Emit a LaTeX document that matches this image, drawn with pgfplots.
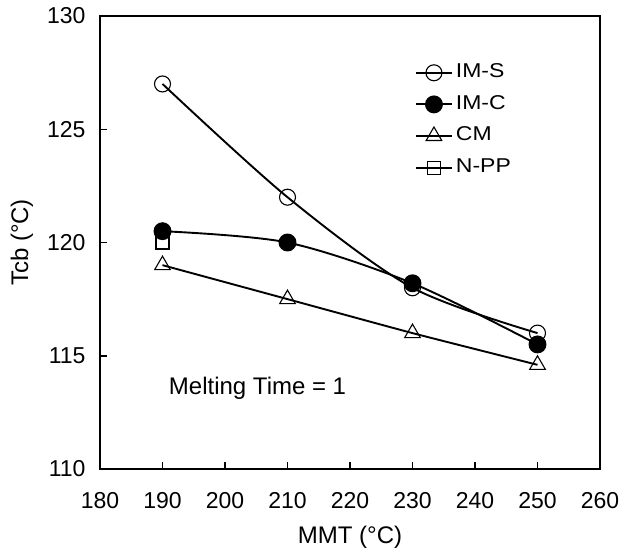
\documentclass[border=0pt]{standalone}
\usepackage{pgfplots}
\pgfplotsset{compat=1.18}
\usepackage{fontspec}
\setmainfont{Liberation Sans}
\newfontfamily\legfont[FakeStretch=1.15]{Liberation Sans}
\begin{document}
\begin{tikzpicture}
\useasboundingbox (-100pt,-81pt) rectangle (521pt,469pt);
\begin{axis}[
  name=ax,
  at={(0,0)}, anchor=south west,
  scale only axis,
  width=500pt, height=453pt,
  xmin=180, xmax=260, ymin=110, ymax=130,
  xtick={180,190,...,260}, ytick={110,115,...,130},
  tick align=inside, xtick pos=bottom, ytick pos=left,
  major tick length=7pt,
  axis line style={line width=1.8pt},
  every tick/.style={black, line width=1.5pt},
  tick label style={font=\fontsize{23}{26}\selectfont},
  /pgf/number format/assume math mode=true,
  xticklabel style={yshift=-20pt},
  yticklabel style={xshift=-11pt},
  clip=false,
  legend style={draw=none, fill=none, at={(0.63,0.9095)}, anchor=north west,
    inner sep=0pt, outer sep=0pt,
    nodes={inner xsep=3pt, inner ysep=6.8pt, text height=14pt, text depth=4pt},
    font=\legfont\fontsize{20}{24}\selectfont, row sep=0pt, cells={anchor=west}},
  legend image code/.code={%
    \draw[mark repeat=2,mark phase=2,line width=1.9pt] plot coordinates {(0pt,0pt) (18pt,0pt) (36pt,0pt)};},
]
\addplot[black, line width=1.9pt, smooth, tension=0.5, mark=o, mark size=8pt, mark options={fill=white, line width=1.1pt}]
  coordinates {(190,127) (210,122) (230,118) (250,116)};
\addlegendentry{IM-S}
\addplot[black, line width=1.9pt, smooth, tension=0.5, mark=*, mark size=8pt, mark options={fill=black}]
  coordinates {(190,120.5) (210,120) (230,118.2) (250,115.5)};
\addlegendentry{IM-C}
\addplot[black, line width=1.9pt, smooth, tension=0.3, mark=triangle, mark size=9pt, mark options={fill=white, line width=1.1pt}]
  coordinates {(190,119) (210,117.5) (230,116) (250,114.6)};
\addlegendentry{CM}
\addplot[black, line width=1.9pt, mark=square, mark size=6.5pt, mark options={fill=white, line width=1.1pt}]
  coordinates {(190,120)};
\addlegendentry{N-PP}
\node[font=\fontsize{24}{27}\selectfont, anchor=base west, inner sep=0pt] at (axis cs:191.0,113.3) {Melting Time = 1};
\end{axis}
\node[rotate=90, font=\fontsize{24}{27}\selectfont] at (-78pt,226.5pt) {Tcb (°C)};
\node[font=\fontsize{24}{27}\selectfont] at (250pt,-68pt) {MMT (°C)};
\end{tikzpicture}
\end{document}
